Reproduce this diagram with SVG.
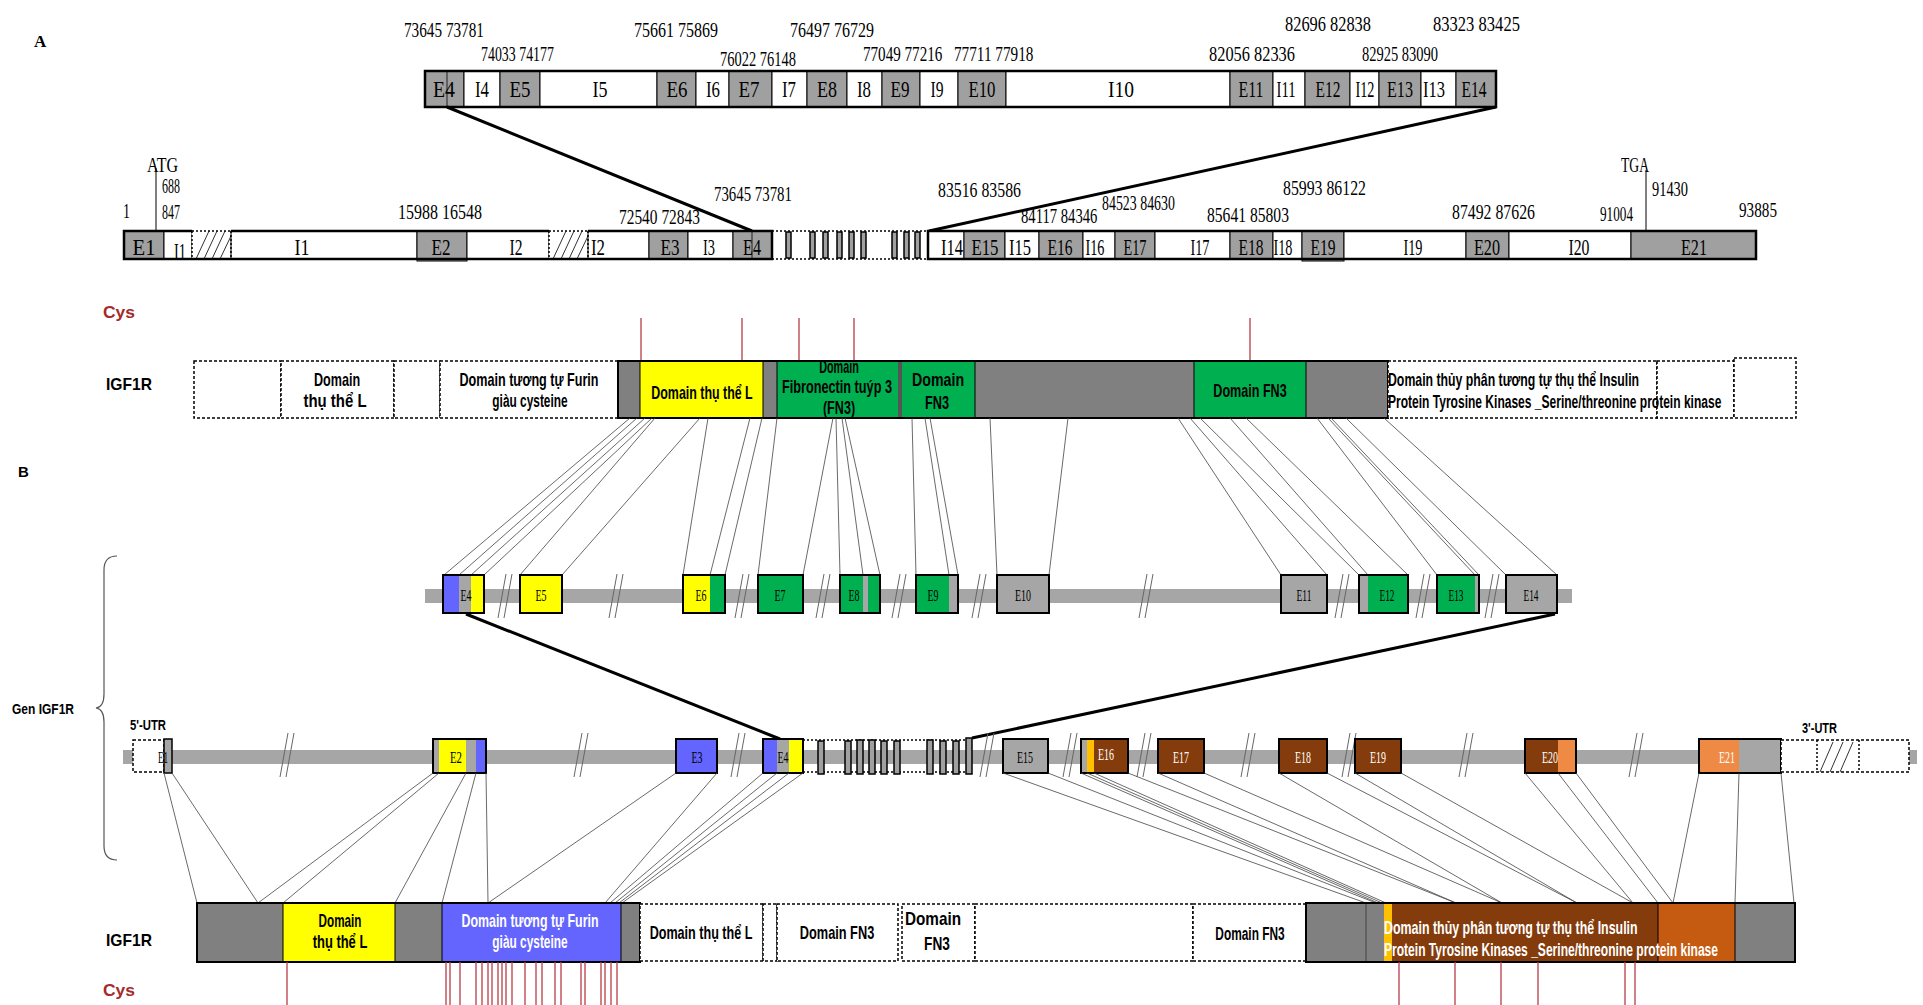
<svg xmlns="http://www.w3.org/2000/svg" width="1923" height="1005" viewBox="0 0 1923 1005">
<defs>
<style>
.sr{font-family:"Liberation Serif","Times New Roman",serif;fill:#000}
.n{font-size:21px}
.el{font-size:24px;text-anchor:middle}
.bx{font-family:"Liberation Serif","Times New Roman",serif;font-size:16px;text-anchor:middle}
.ss{font-family:"Liberation Sans",Arial,sans-serif;font-weight:bold}
.dm{font-size:18px;text-anchor:middle}
.dl{font-size:18px}
.gx{fill:#a0a0a0;stroke:#000;stroke-width:1}
.wx{fill:#fff;stroke:#000;stroke-width:1}
.pg{fill:#808080}
.yl{fill:#ffff00}
.gr{fill:#00b050}
.bl{fill:#6464ff}
.br{fill:#843c0c}
.or{fill:#ef8a45}
.oc{fill:#c55a11}
.gd{fill:#ffc000}
.bg{fill:#a6a6a6}
.dash{fill:#fff;stroke:#000;stroke-width:1.5;stroke-dasharray:3 2}
.ol{fill:none;stroke:#000;stroke-width:2.5}
.ob{fill:none;stroke:#000;stroke-width:2}
.fan line{stroke:#444;stroke-width:0.8}
.cys line{stroke:#b83c46;stroke-width:1.3}
.cyst{fill:#a52a2a}
.sb{fill:#a0a0a0;stroke:#000;stroke-width:1.5}
.dot{stroke:#000;stroke-width:1.5;stroke-dasharray:2 2}
.hat line{stroke:#333;stroke-width:1}
</style>
<g id="brk"><line x1="-7" y1="22" x2="1" y2="-22" stroke="#666" stroke-width="1"/><line x1="-1" y1="22" x2="7" y2="-22" stroke="#666" stroke-width="1"/></g>
</defs>
<rect width="1923" height="1005" fill="#fff"/>

<!-- Section labels -->
<text class="sr" x="34" y="47" font-size="17" font-weight="bold">A</text>
<text class="ss" x="18" y="477" font-size="15">B</text>

<!-- A: zoomed exon bar -->
<g id="A-detail-bar">
<rect class="gx" x="425" y="71" width="39" height="36"/>
<rect class="wx" x="464" y="71" width="36" height="36"/>
<rect class="gx" x="500" y="71" width="40" height="36"/>
<rect class="wx" x="540" y="71" width="117" height="36"/>
<rect class="gx" x="657" y="71" width="39" height="36"/>
<rect class="wx" x="696" y="71" width="33" height="36"/>
<rect class="gx" x="729" y="71" width="43" height="36"/>
<rect class="wx" x="772" y="71" width="35" height="36"/>
<rect class="gx" x="807" y="71" width="40" height="36"/>
<rect class="wx" x="847" y="71" width="35" height="36"/>
<rect class="gx" x="882" y="71" width="38" height="36"/>
<rect class="wx" x="920" y="71" width="38" height="36"/>
<rect class="gx" x="958" y="71" width="48" height="36"/>
<rect class="wx" x="1006" y="71" width="224" height="36"/>
<rect class="gx" x="1230" y="71" width="43" height="36"/>
<rect class="wx" x="1273" y="71" width="32" height="36"/>
<rect class="gx" x="1305" y="71" width="45" height="36"/>
<rect class="wx" x="1350" y="71" width="29" height="36"/>
<rect class="gx" x="1379" y="71" width="42" height="36"/>
<rect class="wx" x="1421" y="71" width="35" height="36"/>
<rect class="gx" x="1456" y="71" width="40" height="36"/>
<rect class="ol" x="425" y="71" width="1071" height="36"/>
<line x1="447" y1="71" x2="447" y2="107" stroke="#000" stroke-width="0.8"/>
<g class="sr el">
<text x="444" y="97" textLength="22" lengthAdjust="spacingAndGlyphs">E4</text>
<text x="482" y="97" textLength="14" lengthAdjust="spacingAndGlyphs">I4</text>
<text x="520" y="97" textLength="21" lengthAdjust="spacingAndGlyphs">E5</text>
<text x="600" y="97" textLength="15" lengthAdjust="spacingAndGlyphs">I5</text>
<text x="677" y="97" textLength="21" lengthAdjust="spacingAndGlyphs">E6</text>
<text x="713" y="97" textLength="14" lengthAdjust="spacingAndGlyphs">I6</text>
<text x="749" y="97" textLength="21" lengthAdjust="spacingAndGlyphs">E7</text>
<text x="789" y="97" textLength="14" lengthAdjust="spacingAndGlyphs">I7</text>
<text x="827" y="97" textLength="20" lengthAdjust="spacingAndGlyphs">E8</text>
<text x="864" y="97" textLength="14" lengthAdjust="spacingAndGlyphs">I8</text>
<text x="900" y="97" textLength="19" lengthAdjust="spacingAndGlyphs">E9</text>
<text x="937" y="97" textLength="13" lengthAdjust="spacingAndGlyphs">I9</text>
<text x="982" y="97" textLength="27" lengthAdjust="spacingAndGlyphs">E10</text>
<text x="1121" y="97" textLength="26" lengthAdjust="spacingAndGlyphs">I10</text>
<text x="1251" y="97" textLength="25" lengthAdjust="spacingAndGlyphs">E11</text>
<text x="1286" y="97" textLength="19" lengthAdjust="spacingAndGlyphs">I11</text>
<text x="1328" y="97" textLength="25" lengthAdjust="spacingAndGlyphs">E12</text>
<text x="1365" y="97" textLength="19" lengthAdjust="spacingAndGlyphs">I12</text>
<text x="1400" y="97" textLength="26" lengthAdjust="spacingAndGlyphs">E13</text>
<text x="1434" y="97" textLength="22" lengthAdjust="spacingAndGlyphs">I13</text>
<text x="1474" y="97" textLength="25" lengthAdjust="spacingAndGlyphs">E14</text>
</g>
<g class="sr n">
<text transform="matrix(0.726,0,0,1,404,37)">73645 73781</text>
<text transform="matrix(0.662,0,0,1,481,61)">74033 74177</text>
<text transform="matrix(0.762,0,0,1,634,37)">75661 75869</text>
<text transform="matrix(0.689,0,0,1,720,66)">76022 76148</text>
<text transform="matrix(0.762,0,0,1,790,37)">76497 76729</text>
<text transform="matrix(0.72,0,0,1,863,61)">77049 77216</text>
<text transform="matrix(0.726,0,0,1,954,61)">77711 77918</text>
<text transform="matrix(0.78,0,0,1,1209,61)">82056 82336</text>
<text transform="matrix(0.78,0,0,1,1285,31)">82696 82838</text>
<text transform="matrix(0.689,0,0,1,1362,61)">82925 83090</text>
<text transform="matrix(0.789,0,0,1,1433,31)">83323 83425</text>
</g>
</g>

<!-- A: zoom connectors -->
<g id="A-zoom-connectors">
<line x1="447" y1="107" x2="752" y2="231" stroke="#000" stroke-width="3"/>
<line x1="1496" y1="107" x2="929" y2="231" stroke="#000" stroke-width="3"/>
</g>

<!-- A: full gene bar -->
<g id="A-gene-bar">
<rect class="gx" x="124" y="231" width="40" height="28"/>
<rect class="wx" x="164" y="231" width="28" height="28"/>
<rect x="192" y="231" width="39" height="28" fill="#fff"/>
<rect class="wx" x="231" y="231" width="186" height="28"/>
<rect class="gx" x="417" y="231" width="50" height="30"/>
<rect class="wx" x="467" y="231" width="82" height="28"/>
<rect x="549" y="231" width="39" height="28" fill="#fff"/>
<rect class="wx" x="588" y="231" width="61" height="28"/>
<rect class="gx" x="649" y="231" width="39" height="28"/>
<rect class="wx" x="688" y="231" width="45" height="28"/>
<rect class="gx" x="733" y="231" width="39" height="28"/>
<line x1="752" y1="231" x2="752" y2="259" stroke="#000" stroke-width="0.8"/>
<g class="hat">
<line x1="196" y1="259" x2="209" y2="231"/><line x1="204" y1="259" x2="217" y2="231"/><line x1="212" y1="259" x2="225" y2="231"/><line x1="220" y1="259" x2="231" y2="236"/>
<line x1="553" y1="259" x2="566" y2="231"/><line x1="561" y1="259" x2="574" y2="231"/><line x1="569" y1="259" x2="582" y2="231"/><line x1="577" y1="259" x2="588" y2="236"/>
</g>
<g class="dot">
<line x1="192" y1="231" x2="192" y2="259"/><line x1="231" y1="231" x2="231" y2="259"/>
<line x1="549" y1="231" x2="549" y2="259"/><line x1="588" y1="231" x2="588" y2="259"/>
<line x1="192" y1="231" x2="231" y2="231"/><line x1="549" y1="231" x2="588" y2="231"/>
<line x1="772" y1="231" x2="928" y2="231"/><line x1="772" y1="259" x2="928" y2="259"/>
</g>
<path class="ol" d="M192,231 H124 V259 H192 M231,231 H549 M231,259 H549 M588,231 H772 V259 H588"/>
<line x1="192" y1="259" x2="231" y2="259" stroke="#000" stroke-width="2.5"/>
<line x1="549" y1="259" x2="588" y2="259" stroke="#000" stroke-width="2.5"/>
<rect class="sb" x="786" y="232" width="5" height="26"/>
<rect class="sb" x="810" y="232" width="5" height="26"/>
<rect class="sb" x="823" y="232" width="5" height="26"/>
<rect class="sb" x="837" y="232" width="5" height="26"/>
<rect class="sb" x="849" y="232" width="5" height="26"/>
<rect class="sb" x="861" y="232" width="5" height="26"/>
<rect class="sb" x="892" y="232" width="5" height="26"/>
<rect class="sb" x="904" y="232" width="5" height="26"/>
<rect class="sb" x="915" y="232" width="5" height="26"/>
<rect class="wx" x="928" y="231" width="36" height="28"/>
<rect class="gx" x="964" y="231" width="41" height="28"/>
<rect class="wx" x="1005" y="231" width="34" height="28"/>
<rect class="gx" x="1039" y="231" width="44" height="28"/>
<rect class="wx" x="1083" y="231" width="32" height="28"/>
<rect class="gx" x="1115" y="231" width="40" height="28"/>
<rect class="wx" x="1155" y="231" width="75" height="28"/>
<rect class="gx" x="1230" y="231" width="43" height="28"/>
<rect class="wx" x="1273" y="231" width="29" height="28"/>
<rect class="gx" x="1302" y="231" width="42" height="30"/>
<rect class="wx" x="1344" y="231" width="122" height="28"/>
<rect class="gx" x="1466" y="231" width="43" height="28"/>
<rect class="wx" x="1509" y="231" width="122" height="28"/>
<rect class="gx" x="1631" y="231" width="125" height="28"/>
<rect class="ol" x="928" y="231" width="828" height="28"/>
<line x1="156" y1="168" x2="156" y2="231" stroke="#000" stroke-width="1"/>
<line x1="1646" y1="170" x2="1646" y2="231" stroke="#000" stroke-width="1"/>
<g class="sr el">
<text x="144" y="255" textLength="23" lengthAdjust="spacingAndGlyphs">E1</text>
<text x="180" y="259" textLength="12" lengthAdjust="spacingAndGlyphs">I1</text>
<text x="302" y="255" textLength="15" lengthAdjust="spacingAndGlyphs">I1</text>
<text x="441" y="255" textLength="19" lengthAdjust="spacingAndGlyphs">E2</text>
<text x="516" y="255" textLength="13" lengthAdjust="spacingAndGlyphs">I2</text>
<text x="598" y="255" textLength="14" lengthAdjust="spacingAndGlyphs">I2</text>
<text x="670" y="255" textLength="19" lengthAdjust="spacingAndGlyphs">E3</text>
<text x="709" y="255" textLength="12" lengthAdjust="spacingAndGlyphs">I3</text>
<text x="752" y="255" textLength="18" lengthAdjust="spacingAndGlyphs">E4</text>
<text x="952" y="255" textLength="22" lengthAdjust="spacingAndGlyphs">I14</text>
<text x="985" y="255" textLength="27" lengthAdjust="spacingAndGlyphs">E15</text>
<text x="1020" y="255" textLength="22" lengthAdjust="spacingAndGlyphs">I15</text>
<text x="1060" y="255" textLength="25" lengthAdjust="spacingAndGlyphs">E16</text>
<text x="1095" y="255" textLength="19" lengthAdjust="spacingAndGlyphs">I16</text>
<text x="1135" y="255" textLength="23" lengthAdjust="spacingAndGlyphs">E17</text>
<text x="1200" y="255" textLength="19" lengthAdjust="spacingAndGlyphs">I17</text>
<text x="1251" y="255" textLength="25" lengthAdjust="spacingAndGlyphs">E18</text>
<text x="1283" y="255" textLength="19" lengthAdjust="spacingAndGlyphs">I18</text>
<text x="1323" y="255" textLength="25" lengthAdjust="spacingAndGlyphs">E19</text>
<text x="1413" y="255" textLength="19" lengthAdjust="spacingAndGlyphs">I19</text>
<text x="1487" y="255" textLength="26" lengthAdjust="spacingAndGlyphs">E20</text>
<text x="1579" y="255" textLength="21" lengthAdjust="spacingAndGlyphs">I20</text>
<text x="1694" y="255" textLength="26" lengthAdjust="spacingAndGlyphs">E21</text>
</g>
<g class="sr n">
<text transform="matrix(0.764,0,0,1,147,172)">ATG</text>
<text transform="matrix(0.571,0,0,1,162,193)">688</text>
<text transform="matrix(0.571,0,0,1,162,219)">847</text>
<text transform="matrix(0.667,0,0,1,123,218)">1</text>
<text transform="matrix(0.762,0,0,1,398,219)">15988 16548</text>
<text transform="matrix(0.735,0,0,1,619,224)">72540 72843</text>
<text transform="matrix(0.707,0,0,1,714,201)">73645 73781</text>
<text transform="matrix(0.753,0,0,1,938,197)">83516 83586</text>
<text transform="matrix(0.698,0,0,1,1021,223)">84117 84346</text>
<text transform="matrix(0.662,0,0,1,1102,210)">84523 84630</text>
<text transform="matrix(0.744,0,0,1,1207,222)">85641 85803</text>
<text transform="matrix(0.753,0,0,1,1283,195)">85993 86122</text>
<text transform="matrix(0.753,0,0,1,1452,219)">87492 87626</text>
<text transform="matrix(0.629,0,0,1,1600,221)">91004</text>
<text transform="matrix(0.648,0,0,1,1621,172)">TGA</text>
<text transform="matrix(0.686,0,0,1,1652,196)">91430</text>
<text transform="matrix(0.724,0,0,1,1739,217)">93885</text>
</g>
</g>

<!-- A: protein -->
<text class="ss cyst" x="103" y="318" font-size="17" textLength="32" lengthAdjust="spacingAndGlyphs">Cys</text>
<text class="ss" x="106" y="390" font-size="17" textLength="46" lengthAdjust="spacingAndGlyphs">IGF1R</text>
<g id="A-cys" class="cys">
<line x1="641" y1="318" x2="641" y2="361"/><line x1="742" y1="318" x2="742" y2="361"/><line x1="799" y1="318" x2="799" y2="361"/><line x1="854" y1="318" x2="854" y2="361"/><line x1="1250" y1="318" x2="1250" y2="361"/>
</g>
<g id="A-protein">
<rect class="dash" x="194" y="361" width="87" height="57"/>
<rect class="dash" x="281" y="361" width="113" height="57"/>
<rect class="dash" x="394" y="361" width="46" height="57"/>
<rect class="dash" x="440" y="361" width="178" height="57"/>
<rect class="pg" x="618" y="361" width="22" height="57"/>
<rect class="yl" x="640" y="361" width="123" height="57"/>
<rect class="pg" x="763" y="361" width="14" height="57"/>
<rect class="gr" x="777" y="361" width="121" height="57"/>
<rect x="898" y="361" width="4" height="57" fill="#555"/>
<rect class="gr" x="902" y="361" width="73" height="57"/>
<rect class="pg" x="975" y="361" width="219" height="57"/>
<rect class="gr" x="1194" y="361" width="112" height="57"/>
<rect class="pg" x="1306" y="361" width="82" height="57"/>
<path d="M640,361V418M763,361V418M777,361V418M975,361V418M1194,361V418M1306,361V418" stroke="#000" stroke-width="1"/>
<rect class="ob" x="618" y="361" width="770" height="57"/>
<rect class="dash" x="1388" y="361" width="269" height="57"/>
<rect class="dash" x="1657" y="361" width="77" height="57"/>
<rect class="dash" x="1734" y="358" width="62" height="60"/>
<g class="ss dm">
<text transform="matrix(0.70,0,0,1,337,386)">Domain</text>
<text transform="matrix(0.83,0,0,1,335,407)">thụ thể L</text>
<text transform="matrix(0.70,0,0,1,529,386)">Domain tương tự Furin</text>
<text transform="matrix(0.66,0,0,1,530,407)">giàu cysteine</text>
<text transform="matrix(0.69,0,0,1,702,399)">Domain thụ thể L</text>
<text transform="matrix(0.6,0,0,1,839,373)">Domain</text>
<text transform="matrix(0.705,0,0,1,837,393)">Fibronectin tuýp 3</text>
<text transform="matrix(0.70,0,0,1,839,414)">(FN3)</text>
<text transform="matrix(0.79,0,0,1,938,386)">Domain</text>
<text transform="matrix(0.71,0,0,1,937,409)">FN3</text>
<text transform="matrix(0.70,0,0,1,1250,397)">Domain FN3</text>
</g>
<g class="ss dl">
<text transform="matrix(0.683,0,0,1,1388,386)">Domain thủy phân tương tự thụ thể Insulin</text>
<text transform="matrix(0.669,0,0,1,1388,408)">Protein Tyrosine Kinases _Serine/threonine protein kinase</text>
</g>
</g>

<!-- Fan A -->
<g id="fan-A" class="fan">
<line x1="630" y1="418" x2="444" y2="575"/>
<line x1="637" y1="418" x2="459" y2="575"/>
<line x1="645" y1="418" x2="471" y2="575"/>
<line x1="652" y1="418" x2="484" y2="575"/>
<line x1="655" y1="418" x2="520" y2="575"/>
<line x1="700" y1="418" x2="562" y2="575"/>
<line x1="708" y1="418" x2="683" y2="575"/>
<line x1="750" y1="418" x2="710" y2="575"/>
<line x1="762" y1="418" x2="725" y2="575"/>
<line x1="777" y1="418" x2="758" y2="575"/>
<line x1="833" y1="418" x2="803" y2="575"/>
<line x1="836" y1="418" x2="840" y2="575"/>
<line x1="842" y1="418" x2="863" y2="575"/>
<line x1="845" y1="418" x2="880" y2="575"/>
<line x1="912" y1="418" x2="916" y2="575"/>
<line x1="925" y1="418" x2="949" y2="575"/>
<line x1="930" y1="418" x2="958" y2="575"/>
<line x1="990" y1="418" x2="997" y2="575"/>
<line x1="1068" y1="418" x2="1049" y2="575"/>
<line x1="1178" y1="418" x2="1281" y2="575"/>
<line x1="1190" y1="418" x2="1327" y2="575"/>
<line x1="1200" y1="418" x2="1359" y2="575"/>
<line x1="1230" y1="418" x2="1368" y2="575"/>
<line x1="1246" y1="418" x2="1408" y2="575"/>
<line x1="1317" y1="418" x2="1437" y2="575"/>
<line x1="1328" y1="418" x2="1475" y2="575"/>
<line x1="1331" y1="418" x2="1479" y2="575"/>
<line x1="1346" y1="418" x2="1506" y2="575"/>
<line x1="1384" y1="418" x2="1557" y2="575"/>
</g>

<!-- B: exon row E4-E14 -->
<g id="B-exon-row">
<rect class="bg" x="425" y="589" width="1147" height="14"/>
<use href="#brk" x="505" y="596"/><use href="#brk" x="616" y="596"/><use href="#brk" x="742" y="596"/><use href="#brk" x="823" y="596"/><use href="#brk" x="899" y="596"/><use href="#brk" x="979" y="596"/><use href="#brk" x="1146" y="596"/><use href="#brk" x="1342" y="596"/><use href="#brk" x="1423" y="596"/><use href="#brk" x="1492" y="596"/>
<g id="B-E4"><rect class="bl" x="443" y="575" width="16" height="38"/><rect class="bg" x="459" y="575" width="12" height="38"/><rect class="yl" x="471" y="575" width="13" height="38"/><rect class="ob" x="443" y="575" width="41" height="38"/><text class="bx" x="466" y="601" textLength="11" lengthAdjust="spacingAndGlyphs">E4</text></g>
<g id="B-E5"><rect class="yl" x="520" y="575" width="42" height="38"/><rect class="ob" x="520" y="575" width="42" height="38"/><text class="bx" x="541" y="601" textLength="11" lengthAdjust="spacingAndGlyphs">E5</text></g>
<g id="B-E6"><rect class="yl" x="683" y="575" width="27" height="38"/><rect class="gr" x="710" y="575" width="15" height="38"/><rect class="ob" x="683" y="575" width="42" height="38"/><text class="bx" x="701" y="601" textLength="11" lengthAdjust="spacingAndGlyphs">E6</text></g>
<g id="B-E7"><rect class="gr" x="758" y="575" width="45" height="38"/><rect class="ob" x="758" y="575" width="45" height="38"/><text class="bx" x="780" y="601" textLength="11" lengthAdjust="spacingAndGlyphs">E7</text></g>
<g id="B-E8"><rect class="gr" x="840" y="575" width="23" height="38"/><rect class="bg" x="863" y="575" width="5" height="38"/><rect class="gr" x="868" y="575" width="12" height="38"/><rect class="ob" x="840" y="575" width="40" height="38"/><text class="bx" x="854" y="601" textLength="11" lengthAdjust="spacingAndGlyphs">E8</text></g>
<g id="B-E9"><rect class="gr" x="916" y="575" width="33" height="38"/><rect class="bg" x="949" y="575" width="9" height="38"/><rect class="ob" x="916" y="575" width="42" height="38"/><text class="bx" x="933" y="601" textLength="11" lengthAdjust="spacingAndGlyphs">E9</text></g>
<g id="B-E10"><rect class="bg" x="997" y="575" width="52" height="38"/><rect class="ob" x="997" y="575" width="52" height="38"/><text class="bx" x="1023" y="601" textLength="16" lengthAdjust="spacingAndGlyphs">E10</text></g>
<g id="B-E11"><rect class="bg" x="1281" y="575" width="46" height="38"/><rect class="ob" x="1281" y="575" width="46" height="38"/><text class="bx" x="1304" y="601" textLength="15" lengthAdjust="spacingAndGlyphs">E11</text></g>
<g id="B-E12"><rect class="bg" x="1359" y="575" width="9" height="38"/><rect class="gr" x="1368" y="575" width="40" height="38"/><rect class="ob" x="1359" y="575" width="49" height="38"/><text class="bx" x="1387" y="601" textLength="15" lengthAdjust="spacingAndGlyphs">E12</text></g>
<g id="B-E13"><rect class="gr" x="1437" y="575" width="38" height="38"/><rect class="bg" x="1475" y="575" width="4" height="38"/><rect class="ob" x="1437" y="575" width="42" height="38"/><text class="bx" x="1456" y="601" textLength="15" lengthAdjust="spacingAndGlyphs">E13</text></g>
<g id="B-E14"><rect class="bg" x="1506" y="575" width="51" height="38"/><rect class="ob" x="1506" y="575" width="51" height="38"/><text class="bx" x="1531" y="601" textLength="15" lengthAdjust="spacingAndGlyphs">E14</text></g>
</g>

<!-- B zoom connectors -->
<g id="B-zoom-connectors">
<line x1="466" y1="614" x2="780" y2="739" stroke="#000" stroke-width="3"/>
<line x1="1555" y1="614" x2="972" y2="738" stroke="#000" stroke-width="3"/>
</g>

<!-- Brace and gene label -->
<g id="gen-label">
<path d="M117,556 Q104,556 104,570 L104,694 Q104,707 96,708 Q104,709 104,722 L104,846 Q104,860 117,860" fill="none" stroke="#555" stroke-width="1.2"/>
<text class="ss" x="12" y="714" font-size="15" textLength="62" lengthAdjust="spacingAndGlyphs">Gen IGF1R</text>
</g>

<!-- B: gene bar -->
<g id="B-gene-bar">
<rect class="bg" x="123" y="750" width="1794" height="14"/>
<use href="#brk" x="287" y="755"/><use href="#brk" x="581" y="755"/><use href="#brk" x="738" y="755"/><use href="#brk" x="987" y="755"/><use href="#brk" x="1070" y="755"/><use href="#brk" x="1144" y="755"/><use href="#brk" x="1248" y="755"/><use href="#brk" x="1349" y="755"/><use href="#brk" x="1466" y="755"/><use href="#brk" x="1636" y="755"/>
<text class="ss" x="130" y="730" font-size="14" textLength="36" lengthAdjust="spacingAndGlyphs">5'-UTR</text>
<text class="ss" x="1802" y="733" font-size="14" textLength="35" lengthAdjust="spacingAndGlyphs">3'-UTR</text>
<g id="G-E1"><rect class="dash" x="133" y="740" width="31" height="32"/><rect class="bg" x="164" y="739" width="8" height="34" stroke="#000" stroke-width="1.5"/><text class="bx" x="163" y="763" textLength="10" lengthAdjust="spacingAndGlyphs">E1</text></g>
<g id="G-E2"><rect class="bg" x="433" y="739" width="6" height="34"/><rect class="yl" x="439" y="739" width="27" height="34"/><rect class="bg" x="466" y="739" width="10" height="34"/><rect class="bl" x="476" y="739" width="10" height="34"/><rect class="ob" x="433" y="739" width="53" height="34"/><text class="bx" x="456" y="763" textLength="12" lengthAdjust="spacingAndGlyphs">E2</text></g>
<g id="G-E3"><rect class="bl" x="676" y="739" width="41" height="34"/><rect class="ob" x="676" y="739" width="41" height="34"/><text class="bx" x="697" y="763" textLength="11" lengthAdjust="spacingAndGlyphs">E3</text></g>
<g id="G-E4"><rect class="bl" x="763" y="739" width="14" height="34"/><rect class="bg" x="777" y="739" width="12" height="34"/><rect class="yl" x="789" y="739" width="14" height="34"/><rect class="ob" x="763" y="739" width="40" height="34"/><text class="bx" x="783" y="763" textLength="11" lengthAdjust="spacingAndGlyphs">E4</text></g>
<g id="G-E5-E14">
<line class="dot" x1="803" y1="740" x2="970" y2="740"/><line class="dot" x1="803" y1="772" x2="970" y2="772"/>
<rect class="sb" x="818" y="741" width="6" height="33"/><rect class="sb" x="845" y="741" width="6" height="33"/><rect class="sb" x="857" y="740" width="6" height="34"/><rect class="sb" x="869" y="740" width="6" height="34"/><rect class="sb" x="881" y="741" width="6" height="33"/><rect class="sb" x="894" y="741" width="6" height="33"/>
<rect class="sb" x="927" y="740" width="6" height="34"/><rect class="sb" x="940" y="741" width="6" height="33"/><rect class="sb" x="953" y="741" width="6" height="33"/><rect class="sb" x="966" y="738" width="6" height="36"/>
</g>
<g id="G-E15"><rect class="bg" x="1003" y="739" width="45" height="34"/><rect class="ob" x="1003" y="739" width="45" height="34"/><text class="bx" x="1025" y="763" textLength="16" lengthAdjust="spacingAndGlyphs">E15</text></g>
<g id="G-E16"><rect class="bg" x="1081" y="739" width="6" height="34"/><rect class="gd" x="1087" y="739" width="7" height="34"/><rect class="br" x="1094" y="739" width="34" height="34"/><rect class="ob" x="1081" y="739" width="47" height="34"/><text class="bx" x="1106" y="760" fill="#fff" textLength="16" lengthAdjust="spacingAndGlyphs">E16</text></g>
<g id="G-E17"><rect class="br" x="1158" y="739" width="46" height="34"/><rect class="ob" x="1158" y="739" width="46" height="34"/><text class="bx" x="1181" y="763" fill="#fff" textLength="16" lengthAdjust="spacingAndGlyphs">E17</text></g>
<g id="G-E18"><rect class="br" x="1279" y="739" width="48" height="34"/><rect class="ob" x="1279" y="739" width="48" height="34"/><text class="bx" x="1303" y="763" fill="#fff" textLength="16" lengthAdjust="spacingAndGlyphs">E18</text></g>
<g id="G-E19"><rect class="br" x="1355" y="739" width="46" height="34"/><rect class="ob" x="1355" y="739" width="46" height="34"/><text class="bx" x="1378" y="763" fill="#fff" textLength="16" lengthAdjust="spacingAndGlyphs">E19</text></g>
<g id="G-E20"><rect class="br" x="1525" y="739" width="33" height="34"/><rect class="or" x="1558" y="739" width="18" height="34"/><rect class="ob" x="1525" y="739" width="51" height="34"/><text class="bx" x="1550" y="763" fill="#fff" textLength="16" lengthAdjust="spacingAndGlyphs">E20</text></g>
<g id="G-E21"><rect class="or" x="1699" y="739" width="40" height="34"/><rect class="bg" x="1739" y="739" width="42" height="34"/><rect class="ob" x="1699" y="739" width="82" height="34"/><text class="bx" x="1727" y="763" fill="#fff" textLength="16" lengthAdjust="spacingAndGlyphs">E21</text></g>
<g id="G-3UTR"><rect class="dash" x="1781" y="740" width="128" height="32"/><line class="dot" x1="1817" y1="740" x2="1817" y2="772"/><line class="dot" x1="1859" y1="740" x2="1859" y2="772"/>
<g class="hat"><line x1="1820" y1="772" x2="1833" y2="742"/><line x1="1830" y1="772" x2="1843" y2="742"/><line x1="1840" y1="772" x2="1853" y2="742"/></g></g>
</g>

<!-- Fan B -->
<g id="fan-B" class="fan">
<line x1="164" y1="773" x2="197" y2="903"/>
<line x1="172" y1="773" x2="258" y2="903"/>
<line x1="433" y1="773" x2="258" y2="903"/>
<line x1="439" y1="773" x2="283" y2="903"/>
<line x1="466" y1="773" x2="395" y2="903"/>
<line x1="476" y1="773" x2="442" y2="903"/>
<line x1="486" y1="773" x2="488" y2="903"/>
<line x1="676" y1="773" x2="488" y2="903"/>
<line x1="717" y1="773" x2="605" y2="903"/>
<line x1="763" y1="773" x2="610" y2="903"/>
<line x1="777" y1="773" x2="615" y2="903"/>
<line x1="789" y1="773" x2="619" y2="903"/>
<line x1="803" y1="773" x2="622" y2="903"/>
<line x1="1003" y1="773" x2="1366" y2="903"/>
<line x1="1048" y1="773" x2="1376" y2="903"/>
<line x1="1081" y1="773" x2="1378" y2="903"/>
<line x1="1087" y1="773" x2="1382" y2="903"/>
<line x1="1094" y1="773" x2="1386" y2="903"/>
<line x1="1128" y1="773" x2="1456" y2="903"/>
<line x1="1158" y1="773" x2="1456" y2="903"/>
<line x1="1204" y1="773" x2="1502" y2="903"/>
<line x1="1279" y1="773" x2="1502" y2="903"/>
<line x1="1327" y1="773" x2="1577" y2="903"/>
<line x1="1355" y1="773" x2="1577" y2="903"/>
<line x1="1401" y1="773" x2="1633" y2="903"/>
<line x1="1525" y1="773" x2="1633" y2="903"/>
<line x1="1558" y1="773" x2="1658" y2="903"/>
<line x1="1576" y1="773" x2="1673" y2="903"/>
<line x1="1699" y1="773" x2="1673" y2="903"/>
<line x1="1739" y1="773" x2="1735" y2="903"/>
<line x1="1781" y1="773" x2="1794" y2="903"/>
</g>

<!-- B: protein -->
<text class="ss" x="106" y="946" font-size="17" textLength="46" lengthAdjust="spacingAndGlyphs">IGF1R</text>
<text class="ss cyst" x="103" y="996" font-size="17" textLength="32" lengthAdjust="spacingAndGlyphs">Cys</text>
<g id="B-protein">
<rect class="pg" x="197" y="903" width="86" height="59"/>
<rect class="yl" x="283" y="903" width="112" height="59"/>
<rect class="pg" x="395" y="903" width="47" height="59"/>
<rect class="bl" x="442" y="903" width="179" height="59"/>
<rect class="pg" x="621" y="903" width="19" height="59"/>
<path d="M283,903V962M395,903V962M442,903V962M621,903V962" stroke="#000" stroke-width="1"/>
<rect class="ob" x="197" y="903" width="443" height="59"/>
<rect class="dash" x="640" y="904" width="123" height="57"/>
<rect class="dash" x="763" y="904" width="14" height="57"/>
<rect class="dash" x="777" y="904" width="121" height="57"/>
<rect class="dash" x="902" y="904" width="73" height="57"/>
<rect class="dash" x="975" y="904" width="218" height="57"/>
<rect class="dash" x="1193" y="904" width="113" height="57"/>
<rect class="pg" x="1306" y="903" width="78" height="59"/>
<line x1="1366" y1="903" x2="1366" y2="962" stroke="#444" stroke-width="1"/>
<rect class="gd" x="1384" y="903" width="8" height="59"/>
<rect class="br" x="1392" y="903" width="266" height="59"/>
<rect class="oc" x="1658" y="903" width="77" height="59"/>
<rect class="pg" x="1735" y="903" width="60" height="59"/>
<path d="M1658,903V962M1735,903V962" stroke="#000" stroke-width="1"/>
<rect class="ob" x="1306" y="903" width="489" height="59"/>
<g class="ss dm">
<text transform="matrix(0.65,0,0,1,340,927)">Domain</text>
<text transform="matrix(0.72,0,0,1,340,948)">thụ thể L</text>
<text transform="matrix(0.69,0,0,1,530,927)" fill="#fff">Domain tương tự Furin</text>
<text transform="matrix(0.66,0,0,1,530,948)" fill="#fff">giàu cysteine</text>
<text transform="matrix(0.70,0,0,1,701,939)">Domain thụ thể L</text>
<text transform="matrix(0.71,0,0,1,837,939)">Domain FN3</text>
<text transform="matrix(0.85,0,0,1,933,925)">Domain</text>
<text transform="matrix(0.76,0,0,1,937,950)">FN3</text>
<text transform="matrix(0.66,0,0,1,1250,940)">Domain FN3</text>
</g>
<g class="ss dl" fill="#fff">
<text transform="matrix(0.69,0,0,1,1384,934)">Domain thủy phân tương tự thụ thể Insulin</text>
<text transform="matrix(0.67,0,0,1,1384,956)">Protein Tyrosine Kinases _Serine/threonine protein kinase</text>
</g>
</g>
<g id="B-cys" class="cys">
<line x1="287" y1="962" x2="287" y2="1005"/>
<line x1="446" y1="962" x2="446" y2="1005"/><line x1="450" y1="962" x2="450" y2="1005"/><line x1="460" y1="962" x2="460" y2="1005"/><line x1="476" y1="962" x2="476" y2="1005"/><line x1="482" y1="962" x2="482" y2="1005"/><line x1="488" y1="962" x2="488" y2="1005"/><line x1="492" y1="962" x2="492" y2="1005"/><line x1="498" y1="962" x2="498" y2="1005"/><line x1="502" y1="962" x2="502" y2="1005"/><line x1="506" y1="962" x2="506" y2="1005"/><line x1="512" y1="962" x2="512" y2="1005"/><line x1="525" y1="962" x2="525" y2="1005"/><line x1="536" y1="962" x2="536" y2="1005"/><line x1="542" y1="962" x2="542" y2="1005"/><line x1="555" y1="962" x2="555" y2="1005"/><line x1="561" y1="962" x2="561" y2="1005"/><line x1="581" y1="962" x2="581" y2="1005"/><line x1="585" y1="962" x2="585" y2="1005"/><line x1="601" y1="962" x2="601" y2="1005"/><line x1="605" y1="962" x2="605" y2="1005"/><line x1="611" y1="962" x2="611" y2="1005"/><line x1="617" y1="962" x2="617" y2="1005"/>
<line x1="1399" y1="962" x2="1399" y2="1005"/><line x1="1455" y1="962" x2="1455" y2="1005"/><line x1="1501" y1="962" x2="1501" y2="1005"/><line x1="1538" y1="962" x2="1538" y2="1005"/><line x1="1625" y1="962" x2="1625" y2="1005"/><line x1="1635" y1="962" x2="1635" y2="1005"/>
</g>
</svg>
